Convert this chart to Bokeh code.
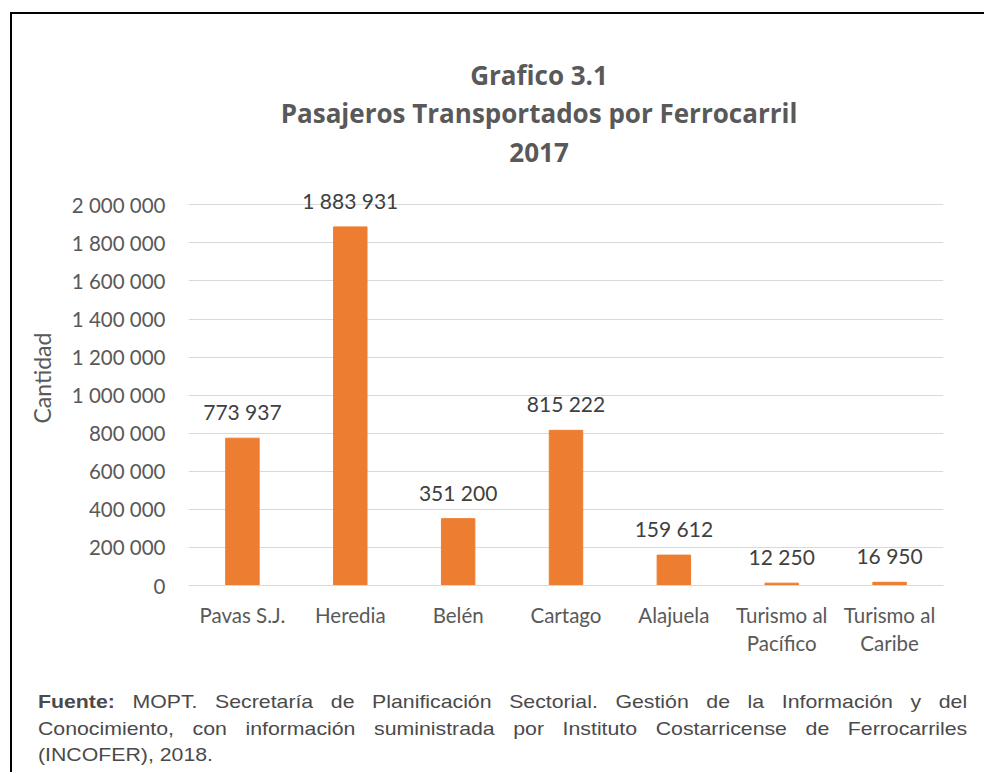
from bokeh.plotting import figure
from bokeh.models import FactorRange, ColumnDataSource, Label, Div, FixedTicker, Title
from bokeh.layouts import column
from bokeh.embed import file_html
from bokeh.resources import INLINE
from bokeh.core.properties import value

categories = ["Pavas S.J.", "Heredia", "Belén", "Cartago", "Alajuela",
              "Turismo al\nPacífico", "Turismo al\nCaribe"]
pasajeros = [773937, 1883931, 351200, 815222, 159612, 12250, 16950]
y_ticks = [0, 200000, 400000, 600000, 800000, 1000000, 1200000, 1400000,
           1600000, 1800000, 2000000]
y_tick_labels = ["0", "200 000", "400 000", "600 000", "800 000", "1 000 000",
                 "1 200 000", "1 400 000", "1 600 000", "1 800 000", "2 000 000"]
title_lines = ["Grafico 3.1", "Pasajeros Transportados por Ferrocarril", "2017"]
y_label = "Cantidad"

FONT = "Lato"
GRAY = "#595959"
ORANGE = "#ED7D31"

src = ColumnDataSource(dict(
    cat=categories, val=pasajeros,
    lab=[f"{v:,}".replace(",", " ") for v in pasajeros]))

# y range extends above the top tick so the three title lines sit inside the frame
p = figure(x_range=FactorRange(*categories, range_padding=0),
           y_range=(0, 2900000), width=972, height=666,
           output_backend="svg", toolbar_location=None,
           min_border_left=176, min_border_right=41,
           min_border_top=19, min_border_bottom=95)
p.outline_line_color = None
p.background_fill_color = "white"
p.border_fill_color = "white"

p.vbar(x="cat", top="val", width=0.31, source=src, color=ORANGE)
p.text(x="cat", y="val", text="lab", source=src, text_align="center",
       text_baseline="bottom", y_offset=-14, text_font=value(FONT),
       text_font_size="21px", text_color="#404040")

p.xgrid.grid_line_color = None
p.ygrid.grid_line_color = "#d9d9d9"
p.ygrid.grid_line_width = 1

p.yaxis.ticker = FixedTicker(ticks=y_ticks)
p.yaxis.major_label_overrides = {t: l for t, l in zip(y_ticks, y_tick_labels)}
p.yaxis.axis_line_color = None
p.yaxis.major_tick_line_color = None
p.yaxis.minor_tick_line_color = None
p.yaxis.major_label_text_font = FONT
p.yaxis.major_label_text_font_size = "20.5px"
p.yaxis.major_label_text_color = GRAY
p.yaxis.major_label_standoff = 17

# vertical axis title placed next to the axis, centred on the tick span
p.add_layout(Title(text=y_label, align="left", offset=162, text_font=FONT,
                   text_font_size="23px", text_font_style="normal",
                   text_color=GRAY, standoff=26), "left")

p.xaxis.axis_line_color = "#d9d9d9"
p.xaxis.major_tick_line_color = None
p.xaxis.minor_tick_line_color = None
p.xaxis.major_label_text_font = FONT
p.xaxis.major_label_text_font_size = "20.5px"
p.xaxis.major_label_text_color = GRAY
p.xaxis.major_label_standoff = 11

title_y = [2680000, 2480000, 2275000]
for txt, yy in zip(title_lines, title_y):
    p.add_layout(Label(x=3.25, y=yy, text=txt, text_align="center",
                       text_baseline="middle", text_font="Open Sans",
                       text_font_size="26px", text_font_style="bold",
                       text_color=GRAY))

footer = Div(
    text=('<div style="font-family: \'Liberation Sans\', Arial, sans-serif; '
          'font-size:18.5px; line-height:26.5px; color:#4a4a4a; text-align:justify; '
          'width:808px; transform:scaleX(1.15); transform-origin:0 0;">'
          '<b>Fuente:</b> MOPT. Secretaría de Planificación Sectorial. Gestión de la '
          'Información y del Conocimiento, con información suministrada por Instituto '
          'Costarricense de Ferrocarriles (INCOFER), 2018.</div>'),
    width=972, height=92, margin=0,
    styles={"padding-left": "26px", "padding-top": "9px", "box-sizing": "border-box",
            "overflow": "hidden"})

layout = column(p, footer, spacing=0, margin=(12, 0, 0, 10),
                styles={"border-left": "2px solid black", "border-top": "2px solid black"})

open("out.html", "w").write(file_html(layout, INLINE))
